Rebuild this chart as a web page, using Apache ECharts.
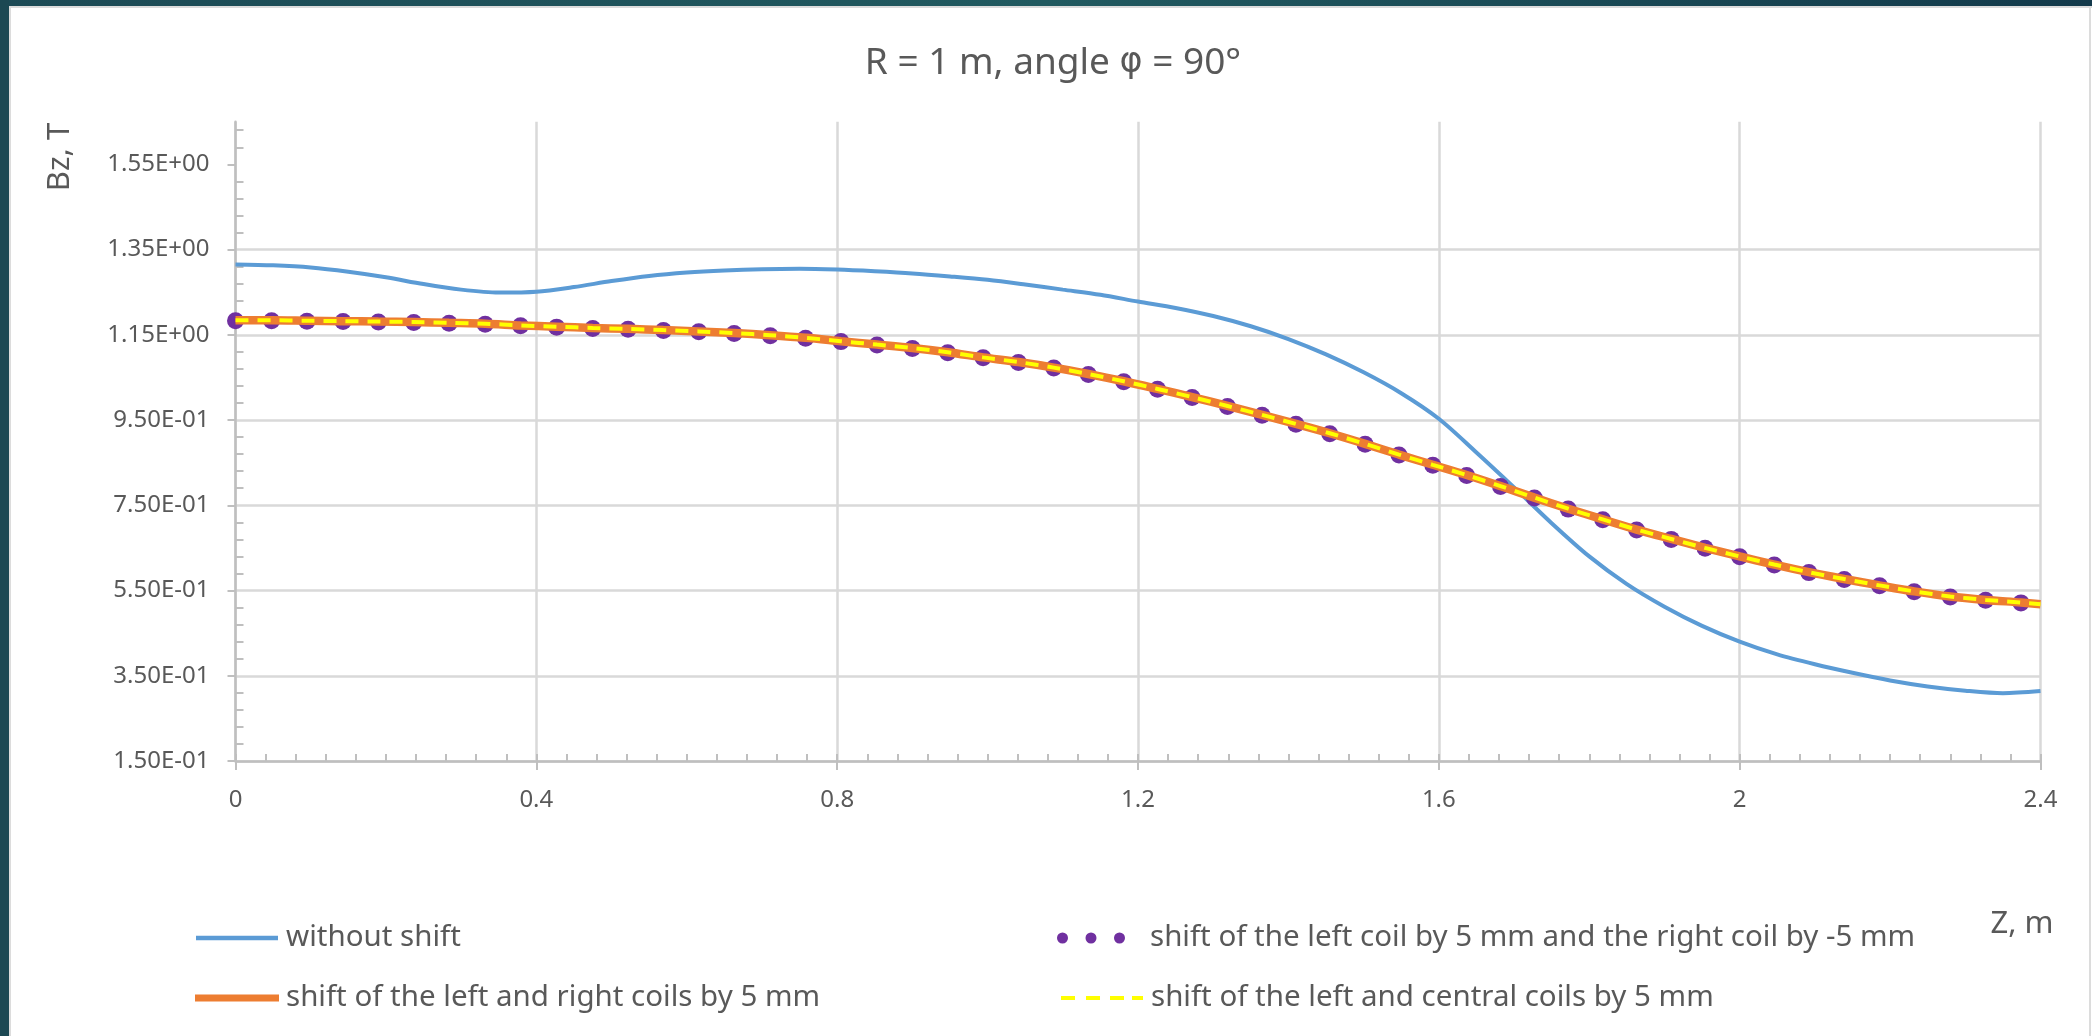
<!DOCTYPE html>
<html>
<head>
<meta charset="utf-8">
<script src="https://cdn.jsdelivr.net/npm/echarts@6/dist/echarts.min.js"></script>
<style>
html,body{margin:0;padding:0;background:#ffffff;}
#chart{width:2092px;height:1036px;}
</style>
</head>
<body>
<div id="chart"></div>
<script>
// ---------- data ----------
const zWithout = [0, 0.05, 0.1, 0.15, 0.2, 0.25, 0.3, 0.35, 0.4, 0.45, 0.5, 0.55, 0.6, 0.65, 0.7, 0.75, 0.8, 0.85, 0.9, 0.95,
  1.0, 1.05, 1.1, 1.15, 1.2, 1.25, 1.3, 1.35, 1.4, 1.45, 1.5, 1.55, 1.6, 1.65, 1.7, 1.75, 1.8, 1.85, 1.9, 1.95,
  2.0, 2.05, 2.1, 2.15, 2.2, 2.25, 2.3, 2.35, 2.4];
const bzWithout = [1.315, 1.313, 1.308, 1.298, 1.285, 1.269, 1.256, 1.249, 1.251, 1.262, 1.276, 1.288, 1.296, 1.301, 1.304, 1.305, 1.303, 1.299, 1.294, 1.287,
  1.279, 1.268, 1.256, 1.244, 1.228, 1.213, 1.194, 1.170, 1.140, 1.104, 1.062, 1.013, 0.953, 0.874, 0.792, 0.708, 0.630, 0.565, 0.512, 0.467,
  0.430, 0.400, 0.377, 0.357, 0.339, 0.325, 0.315, 0.309, 0.314];

const zShift = [0.000, 0.048, 0.095, 0.143, 0.190, 0.237, 0.284, 0.332, 0.379, 0.427, 0.475, 0.522, 0.569,
  0.616, 0.663, 0.711, 0.758, 0.805, 0.853, 0.900, 0.947, 0.994, 1.041, 1.088, 1.134, 1.181,
  1.226, 1.272, 1.319, 1.365, 1.410, 1.455, 1.502, 1.547, 1.592, 1.637, 1.682, 1.727, 1.772,
  1.818, 1.863, 1.909, 1.954, 2.000, 2.046, 2.092, 2.139, 2.186, 2.232, 2.280, 2.327, 2.374, 2.400];
const bzLeftRight = [1.184, 1.184, 1.183, 1.182, 1.181, 1.180, 1.178, 1.176, 1.172, 1.169, 1.166, 1.164, 1.161,
  1.158, 1.154, 1.149, 1.143, 1.135, 1.127, 1.119, 1.109, 1.097, 1.086, 1.073, 1.058, 1.041,
  1.023, 1.004, 0.983, 0.962, 0.941, 0.919, 0.894, 0.869, 0.845, 0.821, 0.795, 0.768, 0.742,
  0.717, 0.693, 0.671, 0.650, 0.630, 0.611, 0.593, 0.577, 0.562, 0.548, 0.536, 0.528, 0.522, 0.518];
const bzLeftMinusRight = [1.183, 1.183, 1.182, 1.181, 1.180, 1.179, 1.177, 1.175, 1.171, 1.168, 1.165, 1.163, 1.160,
  1.157, 1.153, 1.148, 1.142, 1.134, 1.126, 1.118, 1.108, 1.096, 1.085, 1.072, 1.057, 1.040,
  1.022, 1.003, 0.982, 0.961, 0.940, 0.918, 0.893, 0.868, 0.844, 0.820, 0.794, 0.767, 0.741,
  0.716, 0.692, 0.670, 0.649, 0.629, 0.610, 0.592, 0.576, 0.561, 0.547, 0.535, 0.527, 0.521];
const bzLeftCentral = [1.184, 1.184, 1.183, 1.182, 1.181, 1.180, 1.178, 1.176, 1.172, 1.169, 1.166, 1.164, 1.161,
  1.158, 1.154, 1.149, 1.143, 1.135, 1.127, 1.119, 1.109, 1.097, 1.086, 1.073, 1.058, 1.041,
  1.023, 1.004, 0.983, 0.962, 0.941, 0.919, 0.894, 0.869, 0.845, 0.821, 0.795, 0.768, 0.742,
  0.717, 0.693, 0.671, 0.650, 0.630, 0.611, 0.593, 0.577, 0.562, 0.548, 0.536, 0.528, 0.522, 0.518];

const seriesNames = [
  'without shift',
  'shift of the left coil by 5 mm and the right coil by -5 mm',
  'shift of the left and right coils by 5 mm',
  'shift of the left and central coils by 5 mm'
];
const yTicks = [0.15, 0.35, 0.55, 0.75, 0.95, 1.15, 1.35, 1.55];
const xTickLabels = ['0', '0.4', '0.8', '1.2', '1.6', '2', '2.4'];
const titleParts = ['R = 1 m, angle ', '\u03C6', ' = 90\u00B0'];
const yName = 'Bz, T';
const xName = 'Z, m';

// ---------- helpers ----------
function pairs(xs, ys) { const out = []; for (let i = 0; i < ys.length; i++) out.push([xs[i], ys[i]]); return out; }
function fmtE(v) {
  let e = Math.floor(Math.log10(Math.abs(v)) + 1e-9);
  let s = (v / Math.pow(10, e)).toFixed(2);
  if (s === '10.00') { e += 1; s = (v / Math.pow(10, e)).toFixed(2); }
  return s + 'E' + (e < 0 ? '-' : '+') + String(Math.abs(e)).padStart(2, '0');
}
const yMinor = [];
yTicks.forEach(v => { for (let k = 1; k <= 4; k++) { const t = Math.round((v + 0.04 * k) * 100) / 100; if (t < 1.65) yMinor.push(t); } });

const FONT = "'Noto Sans', 'Open Sans', sans-serif";
const TXT = '#595959';
const AXIS = '#bfbfbf';
const GRID = '#d9d9d9';
const C_BLUE = '#5b9bd5', C_ORANGE = '#ed7d31', C_PURPLE = '#7030a0', C_YELLOW = '#ffff00';

const chart = echarts.init(document.getElementById('chart'), null, { renderer: 'canvas' });

const LEG_FONT = 29.5;
function legendItem(left, top, width, name, icon, padLeft) {
  return {
    orient: 'horizontal', padding: 0, itemHeight: 28, itemWidth: width, selectedMode: false,
    left: left, top: top, symbolKeepAspect: true,
    data: [{ name: name, icon: icon }],
    textStyle: { fontFamily: FONT, fontSize: LEG_FONT, color: TXT, padding: [0, 0, 0, padLeft] }
  };
}
const iconBlue = 'path://M0,0H82V4.5H0Z';
const iconOrange = 'path://M0,0H84V7H0Z';
const iconDots = 'path://M0,5.5a5.5,5.5 0 1,0 11,0a5.5,5.5 0 1,0 -11,0ZM28.5,5.5a5.5,5.5 0 1,0 11,0a5.5,5.5 0 1,0 -11,0ZM57,5.5a5.5,5.5 0 1,0 11,0a5.5,5.5 0 1,0 -11,0Z';
const iconDash = 'path://M0,0H14V4H0ZM25,0H39V4H25ZM49,0H63V4H49ZM71,0H82V4H71Z';

const option = {
  animation: false,
  backgroundColor: '#ffffff',
  title: {
    text: '{a|' + titleParts[0] + '}{p|' + titleParts[1] + '}{a|' + titleParts[2] + '}',
    left: 1048, top: 58, textAlign: 'center', textVerticalAlign: 'middle',
    textStyle: {
      fontFamily: FONT, fontSize: 37, fontWeight: 'normal', color: TXT,
      rich: {
        a: { fontFamily: FONT, fontSize: 37, color: TXT },
        p: { fontFamily: "'DejaVu Sans', 'Noto Sans', sans-serif", fontSize: 35, color: TXT }
      }
    }
  },
  grid: { left: 235.5, right: 51.5, top: 121.7, bottom: 275, containLabel: false },
  xAxis: [
    {
      type: 'value', min: 0, max: 2.4, interval: 0.4,
      axisLine: { show: true, onZero: false, lineStyle: { color: AXIS, width: 2.5 } },
      axisTick: { show: true, inside: false, length: 9, lineStyle: { color: AXIS, width: 2 } },
      axisLabel: { show: true, margin: 27, fontFamily: FONT, fontSize: 24, color: TXT,
        formatter: function (v) { const i = Math.round(v / 0.4); return xTickLabels[i] !== undefined ? xTickLabels[i] : ''; } },
      splitLine: { show: true, lineStyle: { color: GRID, width: 2.5 } }
    },
    {
      type: 'value', min: 0, max: 2.4, interval: 0.04, position: 'bottom',
      axisLine: { show: false }, axisLabel: { show: false }, splitLine: { show: false },
      axisTick: { show: true, inside: true, length: 7, lineStyle: { color: AXIS, width: 2 } }
    }
  ],
  yAxis: [
    {
      type: 'value', min: 0.15, max: 1.65,
      axisLine: { show: true, onZero: false, lineStyle: { color: AXIS, width: 2.5 } },
      axisTick: { show: true, inside: false, length: 8, customValues: yTicks, lineStyle: { color: AXIS, width: 2 } },
      axisLabel: { show: true, margin: 26, customValues: yTicks, fontFamily: FONT, fontSize: 24, color: TXT, formatter: fmtE },
      splitLine: { show: true, showMaxLine: false, lineStyle: { color: GRID, width: 2.5 } }
    },
    {
      type: 'value', min: 0.15, max: 1.65, position: 'left',
      axisLine: { show: false }, axisLabel: { show: false }, splitLine: { show: false },
      axisTick: { show: true, inside: true, length: 8, customValues: yMinor, lineStyle: { color: AXIS, width: 2 } }
    }
  ],
  legend: [
    legendItem(196, 923, 82, seriesNames[0], iconBlue, 3),
    legendItem(1057, 923, 68, seriesNames[1], iconDots, 20),
    legendItem(195, 983, 84, seriesNames[2], iconOrange, 2),
    legendItem(1061, 983, 82, seriesNames[3], iconDash, 3)
  ],
  graphic: [
    { type: 'rect', silent: true, z: 100, shape: { x: 0, y: 0, width: 2092, height: 6 }, style: { fill: new echarts.graphic.LinearGradient(0, 0, 1, 0, [{ offset: 0, color: '#1c4a55' }, { offset: 0.5, color: '#215a60' }, { offset: 1, color: '#133a4b' }]) } },
    { type: 'rect', silent: true, z: 100, shape: { x: 0, y: 0, width: 9, height: 1036 }, style: { fill: '#1c4853' } },
    { type: 'rect', silent: true, z: 99, shape: { x: 9, y: 6, width: 2083, height: 2 }, style: { fill: '#dcdcdc' } },
    { type: 'rect', silent: true, z: 99, shape: { x: 9, y: 6, width: 2, height: 1030 }, style: { fill: '#dcdcdc' } },
    { type: 'rect', silent: true, z: 99, shape: { x: 2089, y: 6, width: 2, height: 1030 }, style: { fill: '#dcdcdc' } },
    { type: 'text', silent: true, x: 60, y: 157, rotation: Math.PI / 2,
      style: { text: yName, fontFamily: FONT, fontSize: 31, fill: TXT, align: 'center', verticalAlign: 'middle' } },
    { type: 'text', silent: true, x: 2022, y: 924,
      style: { text: xName, fontFamily: FONT, fontSize: 31, fill: TXT, align: 'center', verticalAlign: 'middle' } }
  ],
  series: [
    {
      name: seriesNames[0], type: 'line', xAxisIndex: 0, yAxisIndex: 0, z: 2,
      data: pairs(zWithout, bzWithout), smooth: 0.3, symbol: 'none',
      lineStyle: { color: C_BLUE, width: 4 }, itemStyle: { color: C_BLUE }
    },
    {
      name: seriesNames[1], type: 'scatter', xAxisIndex: 0, yAxisIndex: 0, z: 3,
      data: pairs(zShift, bzLeftMinusRight), symbol: 'circle', symbolSize: 17,
      itemStyle: { color: C_PURPLE, opacity: 1 }
    },
    {
      name: seriesNames[2], type: 'line', xAxisIndex: 0, yAxisIndex: 0, z: 4,
      data: pairs(zShift, bzLeftRight), smooth: 0.3, symbol: 'none',
      lineStyle: { color: C_ORANGE, width: 8.5 }, itemStyle: { color: C_ORANGE }
    },
    {
      name: seriesNames[3], type: 'line', xAxisIndex: 0, yAxisIndex: 0, z: 5,
      data: pairs(zShift, bzLeftCentral), smooth: 0.3, symbol: 'none',
      lineStyle: { color: C_YELLOW, width: 4, type: [13, 9] }, itemStyle: { color: C_YELLOW }
    }
  ]
};
chart.setOption(option);
</script>
</body>
</html>
